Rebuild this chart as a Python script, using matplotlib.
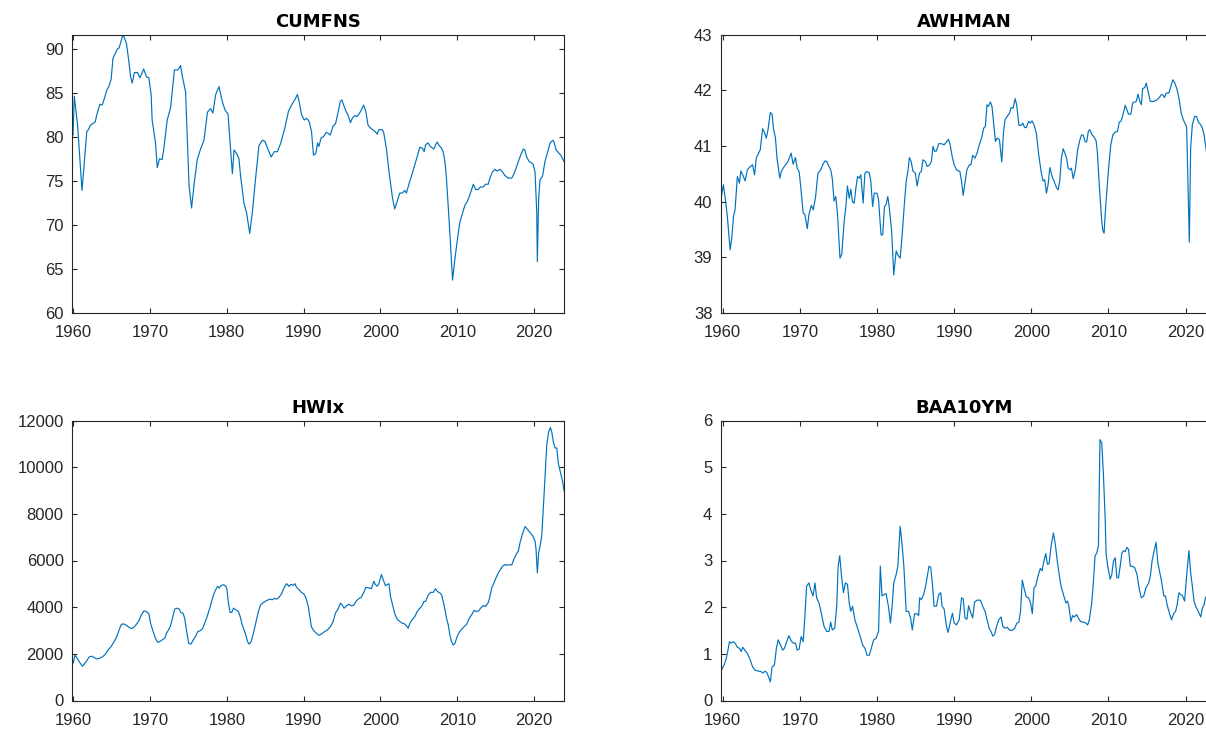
import matplotlib
matplotlib.use("Agg")
import matplotlib.pyplot as plt
import numpy as np

plt.rcParams['font.family'] = ['Liberation Sans', 'DejaVu Sans']

# ---- CUMFNS: capacity utilization, manufacturing ----
cumfns_t = [1959.87, 1960.0, 1960.17, 1960.6, 1961.17, 1961.8, 1962.0, 1962.26, 1962.9, 1963.1,
            1963.5, 1963.8, 1964.1, 1964.4, 1964.65, 1964.96, 1965.2, 1965.5, 1965.8, 1966.0,
            1966.5, 1966.7, 1966.96, 1967.26, 1967.5, 1967.7, 1968.0, 1968.4, 1968.7, 1969.2,
            1969.57, 1969.87, 1970.17, 1970.3, 1970.74, 1970.96, 1971.26, 1971.6, 1971.8, 1972.26,
            1972.7, 1973.2, 1973.65, 1974.0, 1974.2, 1974.65, 1975.1, 1975.43, 1975.8, 1976.17,
            1976.6, 1977.04, 1977.5, 1977.9, 1978.2, 1978.57, 1979.0, 1979.43, 1979.8, 1980.17,
            1980.5, 1980.74, 1980.96, 1981.3, 1981.6, 1981.8, 1982.26, 1982.6, 1983.0, 1983.35,
            1983.8, 1984.2, 1984.65, 1984.96, 1985.5, 1985.8, 1986.17, 1986.6, 1987.04, 1987.57,
            1988.04, 1988.57, 1988.87, 1989.2, 1989.43, 1989.74, 1990.1, 1990.43, 1990.74, 1991.04,
            1991.3, 1991.6, 1991.83, 1992.0, 1992.3, 1992.6, 1992.96, 1993.2, 1993.5, 1993.83,
            1994.17, 1994.48, 1994.78, 1995.0, 1995.22, 1995.57, 1995.78, 1996.1, 1996.35, 1996.65,
            1996.96, 1997.3, 1997.5, 1997.83, 1998.1, 1998.4, 1998.7, 1999.0, 1999.3, 1999.6,
            1999.8, 2000.26, 2000.43, 2000.78, 2001.13, 2001.57, 2001.87, 2002.17, 2002.52, 2002.87,
            2003.17, 2003.4, 2003.74, 2004.04, 2004.48, 2004.78, 2005.13, 2005.48, 2005.7, 2005.9,
            2006.2, 2006.5, 2006.96, 2007.2, 2007.4, 2007.65, 2007.96, 2008.17, 2008.4, 2008.6,
            2008.96, 2009.4, 2009.7, 2010.04, 2010.35, 2010.7, 2011.0, 2011.3, 2011.65, 2012.1,
            2012.4, 2012.74, 2013.04, 2013.4, 2013.7, 2014.04, 2014.26, 2014.6, 2014.9, 2015.2,
            2015.57, 2015.9, 2016.2, 2016.65, 2017.1, 2017.4, 2017.65, 2017.96, 2018.26, 2018.6,
            2018.8, 2019.04, 2019.35, 2019.7, 2019.9, 2020.13, 2020.35, 2020.43, 2020.6, 2020.78,
            2021.1, 2021.43, 2021.78, 2022.1, 2022.43, 2022.6, 2022.87, 2023.17, 2023.48, 2023.9]
cumfns_v = [80.4, 80.2, 84.6, 81.3, 73.9, 80.6, 80.8, 81.3, 81.7, 82.5,
            83.7, 83.6, 84.4, 85.3, 85.7, 86.5, 88.9, 89.5, 90.0, 90.1,
            91.6, 91.2, 90.6, 88.6, 86.8, 86.1, 87.3, 87.3, 86.7, 87.7,
            86.8, 86.7, 84.8, 81.9, 79.3, 76.5, 77.5, 77.4, 78.5, 81.9,
            83.3, 87.6, 87.6, 88.1, 87.0, 85.1, 74.5, 71.9, 74.9, 77.4,
            78.6, 79.6, 82.8, 83.2, 82.7, 84.8, 85.7, 84.0, 83.0, 82.6,
            78.7, 75.8, 78.5, 78.1, 77.5, 75.6, 72.4, 71.3, 69.0, 71.5,
            75.6, 79.0, 79.6, 79.5, 78.3, 77.7, 78.3, 78.3, 79.3, 81.0,
            82.9, 83.8, 84.2, 84.8, 84.0, 82.5, 81.9, 82.1, 81.7, 80.6,
            77.9, 78.1, 79.3, 78.9, 79.9, 80.0, 80.5, 80.4, 80.2, 81.2,
            81.5, 82.7, 84.0, 84.2, 83.6, 82.8, 82.5, 81.6, 82.1, 82.4,
            82.3, 82.7, 83.0, 83.6, 82.9, 81.3, 81.0, 80.8, 80.6, 80.3,
            80.8, 80.8, 80.5, 78.7, 76.0, 73.1, 71.8, 72.6, 73.6, 73.6,
            73.9, 73.6, 74.7, 75.5, 76.8, 77.7, 78.8, 78.7, 78.3, 79.1,
            79.3, 78.9, 78.6, 79.1, 79.4, 79.0, 78.7, 78.3, 77.2, 75.3,
            70.3, 63.7, 66.1, 68.4, 70.3, 71.3, 72.2, 72.6, 73.4, 74.6,
            74.0, 74.0, 74.3, 74.3, 74.6, 74.6, 75.3, 76.0, 76.3, 76.1,
            76.3, 76.0, 75.6, 75.3, 75.3, 75.8, 76.4, 77.2, 77.9, 78.6,
            78.5, 77.7, 77.2, 77.0, 76.8, 76.0, 71.5, 65.8, 73.0, 75.1,
            75.5, 77.2, 78.3, 79.3, 79.6, 79.4, 78.5, 78.2, 77.9, 77.2]

# ---- AWHMAN: average weekly hours, manufacturing ----
awhman_t = [1959.65, 1959.87, 1960.09, 1960.3, 1960.6, 1960.96, 1961.17, 1961.4, 1961.6, 1961.9,
            1962.17, 1962.35, 1962.6, 1962.9, 1963.2, 1963.57, 1963.87, 1964.13, 1964.35, 1964.65,
            1964.87, 1965.17, 1965.4, 1965.65, 1965.87, 1966.17, 1966.4, 1966.6, 1966.83, 1967.04,
            1967.4, 1967.6, 1967.83, 1968.13, 1968.43, 1968.7, 1968.87, 1969.13, 1969.43, 1969.65,
            1969.9, 1970.09, 1970.43, 1970.65, 1970.96, 1971.17, 1971.48, 1971.74, 1972.04, 1972.35,
            1972.7, 1973.0, 1973.26, 1973.48, 1973.78, 1974.0, 1974.2, 1974.43, 1974.65, 1974.87,
            1975.2, 1975.43, 1975.74, 1975.96, 1976.17, 1976.4, 1976.6, 1976.83, 1977.04, 1977.26,
            1977.48, 1977.7, 1977.9, 1978.2, 1978.43, 1978.7, 1979.0, 1979.2, 1979.43, 1979.65,
            1980.0, 1980.2, 1980.52, 1980.74, 1980.96, 1981.17, 1981.4, 1981.6, 1981.9, 1982.17,
            1982.48, 1982.7, 1983.0, 1983.26, 1983.57, 1983.78, 1984.0, 1984.2, 1984.43, 1984.65,
            1984.96, 1985.2, 1985.5, 1985.74, 1985.96, 1986.26, 1986.5, 1986.83, 1987.04, 1987.26,
            1987.48, 1987.7, 1988.0, 1988.35, 1988.7, 1988.9, 1989.26, 1989.48, 1989.74, 1990.0,
            1990.3, 1990.74, 1990.96, 1991.17, 1991.4, 1991.65, 1991.96, 1992.17, 1992.4, 1992.7,
            1992.96, 1993.26, 1993.57, 1993.83, 1994.04, 1994.26, 1994.43, 1994.7, 1994.9, 1995.13,
            1995.35, 1995.57, 1995.87, 1996.17, 1996.4, 1996.6, 1996.87, 1997.17, 1997.4, 1997.65,
            1997.9, 1998.1, 1998.4, 1998.7, 1998.9, 1999.13, 1999.35, 1999.65, 1999.87, 2000.09,
            2000.35, 2000.65, 2000.96, 2001.3, 2001.52, 2001.74, 2001.96, 2002.17, 2002.4, 2002.7,
            2002.96, 2003.26, 2003.48, 2003.7, 2003.9, 2004.13, 2004.35, 2004.57, 2004.78, 2005.0,
            2005.2, 2005.43, 2005.74, 2006.0, 2006.3, 2006.52, 2006.74, 2006.96, 2007.17, 2007.4,
            2007.6, 2007.83, 2008.17, 2008.4, 2008.57, 2008.78, 2009.13, 2009.26, 2009.43, 2009.65,
            2010.0, 2010.3, 2010.57, 2010.87, 2011.17, 2011.4, 2011.6, 2011.83, 2012.17, 2012.39,
            2012.6, 2012.9, 2013.13, 2013.39, 2013.6, 2013.83, 2014.04, 2014.26, 2014.43, 2014.7,
            2014.9, 2015.13, 2015.43, 2015.87, 2016.3, 2016.6, 2016.83, 2017.04, 2017.26, 2017.48,
            2017.83, 2018.04, 2018.35, 2018.6, 2018.9, 2019.13, 2019.43, 2019.7, 2019.9, 2020.13,
            2020.35, 2020.48, 2020.65, 2020.87, 2021.17, 2021.4, 2021.65, 2021.96, 2022.17, 2022.39,
            2022.6, 2022.87]
awhman_v = [40.36, 40.12, 40.30, 40.09, 39.73, 39.13, 39.34, 39.73, 39.85, 40.45,
            40.33, 40.55, 40.48, 40.37, 40.57, 40.63, 40.66, 40.48, 40.78, 40.87,
            40.93, 41.31, 41.25, 41.14, 41.29, 41.60, 41.57, 41.29, 41.15, 40.78,
            40.42, 40.54, 40.60, 40.66, 40.71, 40.81, 40.87, 40.67, 40.79, 40.60,
            40.54, 40.30, 39.79, 39.77, 39.51, 39.76, 39.93, 39.85, 40.09, 40.51,
            40.57, 40.67, 40.73, 40.72, 40.63, 40.57, 40.42, 40.01, 40.09, 39.79,
            38.98, 39.05, 39.64, 39.91, 40.28, 40.06, 40.22, 39.99, 39.97, 40.24,
            40.45, 40.42, 40.48, 39.97, 40.51, 40.54, 40.51, 40.36, 39.91, 40.15,
            40.15, 40.03, 39.40, 39.40, 39.91, 39.94, 40.09, 39.88, 39.46, 38.68,
            39.11, 39.04, 38.98, 39.40, 40.00, 40.36, 40.54, 40.79, 40.72, 40.55,
            40.51, 40.28, 40.51, 40.54, 40.75, 40.72, 40.63, 40.66, 40.72, 40.99,
            40.90, 40.91, 41.04, 41.04, 41.02, 41.05, 41.12, 41.02, 40.81, 40.66,
            40.57, 40.54, 40.36, 40.11, 40.33, 40.57, 40.66, 40.66, 40.83, 40.78,
            40.87, 41.02, 41.15, 41.32, 41.35, 41.74, 41.71, 41.79, 41.71, 41.38,
            41.08, 41.14, 41.11, 40.71, 41.26, 41.47, 41.53, 41.59, 41.69, 41.68,
            41.85, 41.74, 41.37, 41.37, 41.41, 41.33, 41.33, 41.44, 41.41, 41.45,
            41.38, 41.23, 40.84, 40.51, 40.37, 40.39, 40.15, 40.30, 40.61, 40.45,
            40.36, 40.25, 40.21, 40.39, 40.78, 40.95, 40.87, 40.78, 40.60, 40.57,
            40.60, 40.41, 40.60, 40.93, 41.11, 41.20, 41.19, 41.08, 41.07, 41.27,
            41.29, 41.21, 41.15, 41.09, 40.87, 40.36, 39.64, 39.49, 39.43, 39.94,
            40.57, 41.02, 41.20, 41.25, 41.26, 41.43, 41.44, 41.53, 41.73, 41.65,
            41.57, 41.57, 41.77, 41.79, 41.80, 41.93, 41.81, 41.74, 42.03, 42.05,
            42.13, 41.98, 41.80, 41.80, 41.83, 41.87, 41.92, 41.92, 41.87, 41.95,
            41.95, 42.05, 42.19, 42.13, 42.01, 41.86, 41.59, 41.47, 41.41, 41.35,
            40.06, 39.27, 40.96, 41.38, 41.53, 41.53, 41.43, 41.38, 41.32, 41.20,
            40.99, 40.75]

# ---- HWIx: help-wanted index ----
hwix_t = [1959.83, 1960.0, 1960.2, 1960.45, 1960.78, 1961.2, 1961.65, 1962.08, 1962.4, 1962.7,
          1963.0, 1963.35, 1963.8, 1964.15, 1964.45, 1964.9, 1965.3, 1965.66, 1965.96, 1966.27,
          1966.6, 1966.95, 1967.26, 1967.56, 1967.9, 1968.25, 1968.55, 1968.86, 1969.2, 1969.5,
          1969.85, 1970.06, 1970.4, 1970.7, 1971.0, 1971.35, 1971.66, 1971.9, 1972.14, 1972.44,
          1972.66, 1972.96, 1973.2, 1973.5, 1973.8, 1974.0, 1974.3, 1974.5, 1974.73, 1975.03,
          1975.34, 1975.6, 1975.9, 1976.2, 1976.55, 1976.85, 1977.1, 1977.4, 1977.63, 1977.84,
          1978.06, 1978.27, 1978.5, 1978.8, 1979.0, 1979.22, 1979.57, 1979.87, 1980.0, 1980.2,
          1980.43, 1980.65, 1980.86, 1981.17, 1981.5, 1981.73, 1982.0, 1982.4, 1982.7, 1982.9,
          1983.15, 1983.45, 1983.8, 1984.1, 1984.4, 1984.75, 1985.2, 1985.6, 1985.9, 1986.18,
          1986.5, 1986.78, 1987.13, 1987.43, 1987.78, 1988.08, 1988.35, 1988.64, 1988.86, 1989.07,
          1989.4, 1989.7, 1990.0, 1990.3, 1990.6, 1990.8, 1991.0, 1991.3, 1991.65, 1992.0,
          1992.3, 1992.74, 1993.17, 1993.48, 1993.83, 1994.17, 1994.48, 1994.78, 1995.0, 1995.26,
          1995.57, 1995.87, 1996.22, 1996.52, 1996.87, 1997.22, 1997.52, 1997.83, 1998.1, 1998.52,
          1998.83, 1999.13, 1999.35, 1999.57, 1999.78, 2000.13, 2000.35, 2000.65, 2000.87, 2001.1,
          2001.3, 2001.57, 2001.87, 2002.17, 2002.52, 2002.87, 2003.17, 2003.4, 2003.6, 2003.83,
          2004.17, 2004.48, 2004.78, 2005.13, 2005.43, 2005.65, 2005.87, 2006.2, 2006.52, 2006.87,
          2007.17, 2007.4, 2007.74, 2007.96, 2008.17, 2008.4, 2008.6, 2008.83, 2009.04, 2009.26,
          2009.48, 2009.7, 2009.9, 2010.22, 2010.57, 2010.9, 2011.22, 2011.57, 2011.87, 2012.17,
          2012.52, 2012.8, 2013.04, 2013.4, 2013.7, 2014.04, 2014.26, 2014.48, 2014.78, 2015.04,
          2015.35, 2015.57, 2015.9, 2016.22, 2016.45, 2016.74, 2017.1, 2017.4, 2017.74, 2017.96,
          2018.17, 2018.48, 2018.83, 2019.13, 2019.48, 2019.83, 2020.13, 2020.26, 2020.43, 2020.6,
          2020.78, 2021.0, 2021.2, 2021.43, 2021.65, 2021.9, 2022.13, 2022.3, 2022.52, 2022.74,
          2022.96, 2023.17, 2023.48, 2023.74, 2023.9]
hwix_v = [1583, 1612, 1943, 1842, 1655, 1468, 1655, 1871, 1900, 1842,
          1784, 1799, 1871, 1971, 2130, 2302, 2518, 2734, 3022, 3267,
          3281, 3209, 3137, 3080, 3137, 3281, 3425, 3669, 3842, 3813,
          3713, 3310, 2950, 2662, 2490, 2547, 2619, 2662, 2878, 3051,
          3195, 3598, 3914, 3957, 3914, 3770, 3741, 3526, 3022, 2446,
          2418, 2590, 2734, 2950, 2993, 3094, 3310, 3569, 3813, 4029,
          4317, 4533, 4720, 4893, 4821, 4921, 4965, 4893, 4778, 4173,
          3770, 3784, 3957, 3885, 3813, 3598, 3238, 2878, 2518, 2418,
          2518, 2878, 3382, 3813, 4101, 4202, 4288, 4346, 4317, 4375,
          4346, 4418, 4576, 4821, 5008, 4893, 4979, 4936, 5008, 4850,
          4749, 4634, 4576, 4389, 4029, 3598, 3166, 2993, 2878, 2792,
          2849, 2950, 3051, 3166, 3382, 3770, 3914, 4173, 4101, 3957,
          4058, 4130, 4058, 4087, 4274, 4375, 4432, 4634, 4850, 4821,
          4792, 5109, 4965, 4893, 4994, 5397, 5180, 4921, 4965, 5008,
          4461, 4101, 3713, 3482, 3382, 3310, 3281, 3195, 3094, 3310,
          3482, 3598, 3813, 3957, 4073, 4245, 4245, 4504, 4634, 4634,
          4792, 4677, 4605, 4533, 4245, 3885, 3526, 3238, 2806, 2518,
          2374, 2446, 2662, 2907, 3051, 3166, 3267, 3526, 3670, 3856,
          3813, 3842, 3957, 4073, 4029, 4202, 4461, 4821, 5037, 5252,
          5468, 5583, 5756, 5828, 5799, 5814, 5814, 6072, 6303, 6404,
          6763, 7123, 7454, 7339, 7195, 7051, 6835, 6475, 5468, 6332,
          6619, 7051, 8202, 9641, 10936, 11512, 11699, 11512, 11080, 10821,
          10821, 10145, 9713, 9353, 8994]

# ---- BAA10YM: Baa yield minus 10-year Treasury ----
baa_t = [1959.65, 1959.87, 1960.17, 1960.43, 1960.65, 1960.87, 1961.1, 1961.4, 1961.6, 1961.9,
         1962.17, 1962.4, 1962.6, 1962.9, 1963.2, 1963.57, 1963.9, 1964.2, 1964.65, 1964.95,
         1965.2, 1965.5, 1965.74, 1965.96, 1966.17, 1966.4, 1966.7, 1966.96, 1967.2, 1967.48,
         1967.78, 1968.0, 1968.3, 1968.57, 1968.87, 1969.13, 1969.43, 1969.65, 1969.9, 1970.17,
         1970.43, 1970.65, 1970.87, 1971.17, 1971.4, 1971.7, 1971.96, 1972.17, 1972.48, 1972.78,
         1973.13, 1973.48, 1973.78, 1974.0, 1974.2, 1974.52, 1974.78, 1974.96, 1975.17, 1975.4,
         1975.65, 1975.9, 1976.17, 1976.4, 1976.6, 1976.83, 1977.13, 1977.48, 1977.83, 1978.13,
         1978.43, 1978.7, 1979.0, 1979.3, 1979.57, 1979.87, 1980.2, 1980.43, 1980.65, 1980.9,
         1981.17, 1981.48, 1981.74, 1981.96, 1982.17, 1982.48, 1982.7, 1983.0, 1983.22, 1983.48,
         1983.78, 1984.09, 1984.35, 1984.57, 1984.87, 1985.17, 1985.4, 1985.52, 1985.74, 1986.04,
         1986.3, 1986.52, 1986.74, 1986.96, 1987.17, 1987.4, 1987.7, 1988.0, 1988.26, 1988.43,
         1988.7, 1989.0, 1989.2, 1989.57, 1989.78, 1990.0, 1990.3, 1990.65, 1990.96, 1991.17,
         1991.4, 1991.65, 1991.87, 1992.1, 1992.4, 1992.65, 1992.96, 1993.4, 1993.7, 1994.0,
         1994.26, 1994.57, 1994.78, 1995.0, 1995.22, 1995.52, 1995.78, 1996.09, 1996.3, 1996.6,
         1996.87, 1997.17, 1997.48, 1997.83, 1998.13, 1998.39, 1998.6, 1998.83, 1999.04, 1999.35,
         1999.65, 1999.9, 2000.13, 2000.35, 2000.57, 2000.87, 2001.17, 2001.39, 2001.6, 2001.87,
         2002.09, 2002.3, 2002.6, 2002.87, 2003.13, 2003.39, 2003.7, 2003.9, 2004.2, 2004.48,
         2004.7, 2004.87, 2005.13, 2005.35, 2005.57, 2005.87, 2006.09, 2006.39, 2006.74, 2007.04,
         2007.3, 2007.52, 2007.83, 2008.04, 2008.26, 2008.48, 2008.7, 2008.9, 2009.13, 2009.35,
         2009.57, 2009.7, 2009.9, 2010.22, 2010.43, 2010.65, 2010.87, 2011.09, 2011.3, 2011.52,
         2011.74, 2011.96, 2012.17, 2012.39, 2012.6, 2012.83, 2013.04, 2013.39, 2013.7, 2014.0,
         2014.26, 2014.57, 2014.87, 2015.22, 2015.43, 2015.65, 2015.87, 2016.17, 2016.39, 2016.6,
         2016.87, 2017.17, 2017.39, 2017.6, 2017.9, 2018.17, 2018.48, 2018.7, 2018.9, 2019.13,
         2019.35, 2019.57, 2019.87, 2020.13, 2020.43, 2020.65, 2020.87, 2021.09, 2021.3, 2021.52,
         2021.74, 2021.96, 2022.17, 2022.39, 2022.6, 2022.87]
baa_v = [0.61, 0.66, 0.76, 0.88, 1.05, 1.26, 1.23, 1.26, 1.23, 1.14,
         1.12, 1.05, 1.14, 1.07, 1.01, 0.87, 0.71, 0.65, 0.63, 0.62,
         0.59, 0.63, 0.59, 0.50, 0.40, 0.72, 0.76, 1.12, 1.30, 1.19,
         1.08, 1.12, 1.26, 1.39, 1.28, 1.23, 1.23, 1.08, 1.10, 1.37,
         1.26, 1.80, 2.45, 2.52, 2.38, 2.24, 2.52, 2.20, 2.09, 1.87,
         1.59, 1.48, 1.48, 1.68, 1.51, 1.55, 2.02, 2.88, 3.10, 2.67,
         2.31, 2.52, 2.49, 2.09, 1.91, 2.02, 1.73, 1.55, 1.37, 1.19,
         1.12, 0.97, 0.97, 1.14, 1.30, 1.33, 1.48, 2.88, 2.24, 2.27,
         2.29, 2.02, 1.66, 2.02, 2.52, 2.70, 2.88, 3.73, 3.39, 2.88,
         1.91, 1.91, 1.77, 1.51, 1.86, 1.86, 1.82, 2.20, 2.16, 2.27,
         2.45, 2.67, 2.88, 2.85, 2.52, 2.02, 2.02, 2.27, 2.31, 2.02,
         1.96, 1.59, 1.46, 1.73, 1.87, 1.66, 1.62, 1.73, 2.20, 2.18,
         1.77, 1.74, 2.03, 1.91, 1.77, 2.11, 2.15, 2.15, 2.02, 1.91,
         1.73, 1.53, 1.48, 1.38, 1.41, 1.60, 1.73, 1.79, 1.59, 1.55,
         1.57, 1.51, 1.50, 1.54, 1.66, 1.68, 1.91, 2.58, 2.42, 2.22,
         2.20, 2.09, 1.86, 2.42, 2.45, 2.67, 2.83, 2.78, 2.96, 3.15,
         2.92, 2.93, 3.35, 3.59, 3.32, 2.96, 2.60, 2.42, 2.25, 2.09,
         2.13, 2.02, 1.69, 1.82, 1.79, 1.84, 1.77, 1.69, 1.68, 1.66,
         1.62, 1.73, 2.09, 2.52, 3.10, 3.16, 3.32, 5.59, 5.52, 4.83,
         3.89, 3.14, 2.88, 2.60, 2.70, 2.99, 3.06, 2.63, 2.63, 2.88,
         3.16, 3.21, 3.19, 3.28, 3.24, 2.88, 2.88, 2.85, 2.70, 2.38,
         2.20, 2.24, 2.42, 2.52, 2.67, 2.99, 3.17, 3.39, 2.96, 2.78,
         2.56, 2.24, 2.24, 2.05, 1.87, 1.73, 1.87, 1.91, 2.05, 2.31,
         2.27, 2.25, 2.13, 2.67, 3.21, 2.74, 2.45, 2.13, 2.02, 1.95,
         1.87, 1.79, 1.98, 2.05, 2.22, 2.13]

years = [1960, 1970, 1980, 1990, 2000, 2010, 2020]

W, H = 1206, 730
fig = plt.figure(figsize=(W / 100, H / 100), dpi=100)


def px_axes(left, top, right, bottom):
    return fig.add_axes([left / W, 1 - bottom / H, (right - left) / W, (bottom - top) / H])


line_color = '#0072BD'
axis_color = '#262626'

# title, time, values, box (px: left, top, right, bottom), xlim, ylim, yticks, right ticks
panels = [
    ("CUMFNS", cumfns_t, cumfns_v, (72, 34.7, 564, 312.7), (1959.87, 2023.9),
     (60, max(cumfns_v)), np.arange(60, 91, 5), True),
    ("AWHMAN", awhman_t, awhman_v, (720.7, 34.7, 1208, 312.7), (1959.74, 2022.9),
     (38, 43), np.arange(38, 44, 1), False),
    ("HWIx", hwix_t, hwix_v, (72, 420.5, 564, 700.5), (1959.83, 2023.9),
     (0, 12000), np.arange(0, 12001, 2000), True),
    ("BAA10YM", baa_t, baa_v, (720.7, 420.5, 1208, 700.5), (1959.74, 2022.9),
     (0, 6), np.arange(0, 7, 1), False),
]

for title, t, v, box, xl, yl, yt, rt in panels:
    ax = px_axes(*box)
    ax.plot(t, v, color=line_color, linewidth=0.85)
    ax.set_xlim(*xl)
    ax.set_ylim(*yl)
    ax.set_xticks(years)
    ax.set_yticks(yt)
    ax.set_yticklabels([f"{int(y)}" for y in yt])
    ax.tick_params(direction='in', length=3.8, width=0.8, top=True, right=rt,
                   labelsize=12, colors=axis_color)
    ax.tick_params(axis='y', pad=6)
    ax.tick_params(axis='x', pad=9)
    for s in ax.spines.values():
        s.set_color(axis_color)
        s.set_linewidth(0.8)
    ax.set_title(title, fontsize=13, fontweight='bold', color='black', pad=5.5,
                 family=['DejaVu Sans'])

fig.savefig("out.png", dpi=100)
